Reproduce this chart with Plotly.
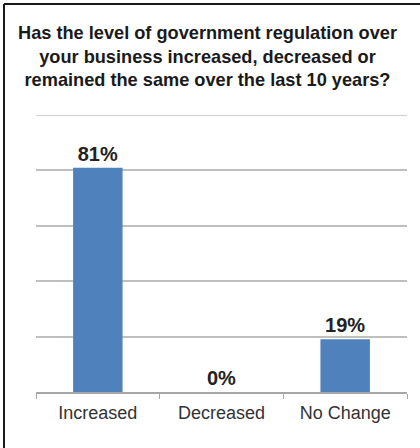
import plotly.graph_objects as go

categories = ["Increased", "Decreased", "No Change"]
values = [81, 0, 19]
labels = ["<b>81%</b>", "<b>0%</b>", "<b>19%</b>"]
title_lines = [
    "Has the level of government regulation over",
    "your business increased, decreased or",
    "remained the same over the last 10 years?",
]

W, H = 420, 448
ml, mr, mt, mb = 36, 13, 115, 56
pw, ph = W - ml - mr, H - mt - mb

def px_x(x):
    return (x - ml) / pw

def px_y(y):
    return (H - mb - y) / ph

fig = go.Figure(go.Bar(
    x=categories, y=values, text=labels, textposition="outside",
    textfont=dict(family="Liberation Sans, Arial", size=20, color="#222222"),
    marker=dict(color="#4F81BD", line=dict(width=0)),
    cliponaxis=False,
))

fig.update_layout(
    width=W, height=H,
    margin=dict(l=ml, r=mr, t=mt, b=mb),
    paper_bgcolor="white", plot_bgcolor="white",
    bargap=0.6,
    showlegend=False,
    uniformtext=dict(minsize=8, mode="show"),
    font=dict(family="Liberation Sans, Arial", color="#333333"),
)
fig.update_yaxes(range=[0, 100], dtick=20, showticklabels=False,
                 gridcolor="#BFBFBF", gridwidth=1.5, zeroline=False, showline=False)
fig.update_xaxes(type="category", tickson="boundaries", ticks="outside", ticklen=5,
                 tickcolor="#A6A6A6", showline=True, linecolor="#A6A6A6", linewidth=1.5,
                 ticklabelstandoff=4,
                 tickfont=dict(size=18, color="#333333"), showgrid=False)

# top gridline (at 100, on the plot edge)
fig.add_shape(type="line", xref="paper", yref="y", x0=0, x1=1, y0=100, y1=100,
              line=dict(color="#BFBFBF", width=1.5), layer="below")

fig.add_annotation(
    text="<b>" + "<br>".join(title_lines) + "</b>",
    xref="paper", yref="paper", x=px_x(207), y=px_y(56),
    xanchor="center", yanchor="middle", showarrow=False, align="center",
    font=dict(family="Liberation Sans, Arial", size=18.2, color="#1a1a1a"),
)

# outer frame (top and left visible)
fig.add_shape(type="line", xref="paper", yref="paper",
              x0=px_x(4), x1=px_x(430), y0=px_y(4), y1=px_y(4),
              line=dict(color="#1a1a1a", width=2))
fig.add_shape(type="line", xref="paper", yref="paper",
              x0=px_x(4), x1=px_x(4), y0=px_y(4), y1=px_y(460),
              line=dict(color="#1a1a1a", width=2))

fig.write_html("out.html")
